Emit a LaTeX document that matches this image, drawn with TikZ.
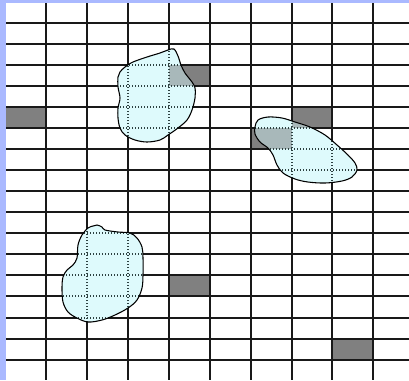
\documentclass[tikz,border=0pt]{standalone}

\definecolor{edgeblue}{RGB}{170,185,255}
\definecolor{cellgray}{RGB}{128,128,128}
\definecolor{blobcyan}{RGB}{222,250,252}
\definecolor{mixgray}{RGB}{168,184,186}
\definecolor{dotgray}{RGB}{45,65,65}

\tikzset{
  gridline/.style={line width=1pt, black!90},
  dotgrid/.style={line width=0.8pt, dotgray, dash pattern=on 0.75pt off 1.5pt},
  darkcell/.style={fill=cellgray},
  mixcell/.style={fill=mixgray},
  blobfill/.style={fill=blobcyan},
  blobedge/.style={line width=0.8pt, black}
}

% outlines of the three patches (pixel coordinates)
\newcommand{\blobone}{plot[smooth cycle, tension=0.55] coordinates {(174,49) (178,56) (181,65) (185,73) (192,82) (195,88) (195,98) (192,110) (187,120) (178,128) (168,135) (160,140) (147,142) (135,140) (125,135) (120,128) (118,118) (118,108) (120,98) (118,87) (118,77) (120,72) (125,67) (133,62) (147,57) (160,53) (168,50)}}
\newcommand{\blobtwo}{plot[smooth cycle, tension=0.55] coordinates {(97,225) (102,227) (105,230) (118,232) (130,233) (137,238) (142,247) (143,258) (143,275) (142,288) (137,300) (128,308) (115,315) (102,320) (88,322) (77,318) (68,312) (63,302) (62,288) (63,277) (67,270) (73,265) (77,258) (78,245) (82,235) (88,228) (93,226)}}
\newcommand{\blobthree}{plot[smooth cycle, tension=0.55] coordinates {(255,127) (258,120) (268,117) (282,118) (295,122) (310,127) (325,135) (337,145) (348,155) (355,163) (357,170) (352,177) (342,181) (325,183) (308,182) (295,179) (283,173) (277,165) (273,155) (268,148) (260,142) (255,134)}}

% grid positions (pixels)
\newcommand{\colxs}{46,87,128,169,210,251,292,332,373}
\newcommand{\rowys}{23,44,65,86,107,128,149,170,191,212,233,254,275,296,318,339,360}

% grid lines, solid or dotted
\newcommand{\gridlines}[1]{%
  \foreach \x in \colxs
    \draw[#1] (\x,3) -- (\x,380);
  \foreach \y in \rowys
    \draw[#1] (6,\y) -- (409,\y);
}

\begin{document}
\begin{tikzpicture}[x=0.75pt, y=-0.75pt]

  \useasboundingbox (0,0) rectangle (409,380);
  \fill[white] (0,0) rectangle (409,380);

  % occupied cells
  \foreach \xa/\ya/\xb/\yb in {6/107/46/128, 169/65/210/86, 292/107/332/128, 251/128/292/149, 169/275/210/296, 332/339/373/360}
    \fill[darkcell] (\xa,\ya) rectangle (\xb,\yb);

  \fill[edgeblue] (0,0) rectangle (6,380);
  \fill[edgeblue] (0,0) rectangle (409,3);

  \gridlines{gridline}

  % patch 1
  \fill[blobfill] \blobone;
  \begin{scope}
    \clip \blobone;
    \fill[mixcell] (169,65) rectangle (210,86);
    \gridlines{dotgrid}
  \end{scope}
  \draw[blobedge] \blobone;

  % patch 2
  \fill[blobfill] \blobtwo;
  \begin{scope}
    \clip \blobtwo;
    \gridlines{dotgrid}
  \end{scope}
  \draw[blobedge] \blobtwo;

  % patch 3
  \fill[blobfill] \blobthree;
  \begin{scope}
    \clip \blobthree;
    \fill[mixcell] (292,107) rectangle (332,128);
    \fill[mixcell] (251,128) rectangle (292,149);
    \gridlines{dotgrid}
  \end{scope}
  \draw[blobedge] \blobthree;

\end{tikzpicture}
\end{document}
